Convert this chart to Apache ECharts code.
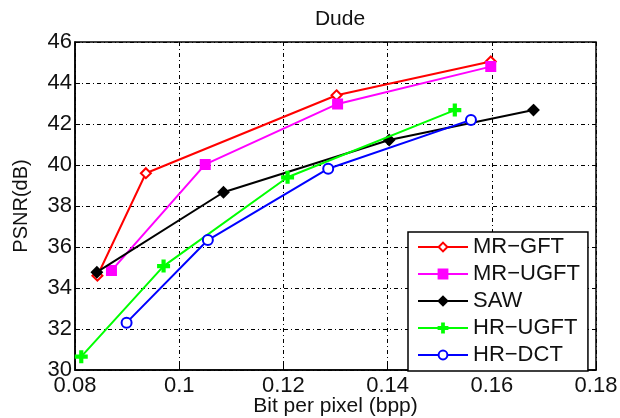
<!DOCTYPE html>
<html>
<head>
<meta charset="utf-8">
<script src="https://cdn.jsdelivr.net/npm/echarts@6/dist/echarts.min.js"></script>
<style>html,body{margin:0;padding:0;background:#fff}#c{width:620px;height:418px}</style>
</head>
<body>
<div id="c"></div>
<script>
const titleText = 'Dude';
const xName = 'Bit per pixel (bpp)';
const yName = 'PSNR(dB)';
const seriesNames = ['MR\u2212GFT', 'MR\u2212UGFT', 'SAW', 'HR\u2212UGFT', 'HR\u2212DCT'];
const mrGft  = [[0.0843, 34.6], [0.0936, 39.6], [0.1302, 43.4], [0.1598, 45.05]];
const mrUgft = [[0.0870, 34.85], [0.1050, 40.03], [0.1304, 42.98], [0.1598, 44.8]];
const saw    = [[0.0842, 34.77], [0.1085, 38.67], [0.1403, 41.22], [0.1680, 42.68]];
const hrUgft = [[0.0812, 30.65], [0.0970, 35.07], [0.1208, 39.4], [0.1529, 42.68]];
const hrDct  = [[0.0899, 32.31], [0.1055, 36.34], [0.1286, 39.82], [0.1560, 42.2]];
const xTicks = [0.08, 0.18, 0.02];
const yTicks = [30, 46, 2];

const font = 'Liberation Sans';
const plusPath = 'path://M4,0H6V4H10V6H6V10H4V6H0V4H4Z';
const styles = [
  {color: '#ff0000', symbol: 'emptyDiamond', size: 10},
  {color: '#ff00ff', symbol: 'rect', size: 9},
  {color: '#000000', symbol: 'diamond', size: 10},
  {color: '#00ff00', symbol: plusPath, size: 11},
  {color: '#0000ff', symbol: 'emptyCircle', size: 10}
];
const datas = [mrGft, mrUgft, saw, hrUgft, hrDct];
const gridLine = {show: true, lineStyle: {color: '#000', width: 1, type: [4, 3, 1, 3]}};

const chart = echarts.init(document.getElementById('c'));
chart.setOption({
  animation: false,
  backgroundColor: '#fff',
  title: {text: titleText, left: 335, top: 4, textAlign: 'center',
    textStyle: {fontFamily: font, fontSize: 21, fontWeight: 'normal', color: '#111'}},
  grid: {left: 75, top: 42, right: 24, bottom: 48, show: true, borderColor: '#000', borderWidth: 1.5,
    containLabel: false, outerBoundsMode: 'none'},
  xAxis: {
    type: 'value', min: xTicks[0], max: xTicks[1], interval: xTicks[2],
    name: xName, nameLocation: 'middle', nameGap: 26, nameMoveOverlap: false,
    nameTextStyle: {fontFamily: font, fontSize: 21, color: '#111'},
    axisLine: {show: true, lineStyle: {color: '#000', width: 1.5}},
    axisTick: {show: true, inside: true, length: 5, lineStyle: {color: '#000'}},
    axisLabel: {fontFamily: font, fontSize: 22, color: '#111', margin: 5,
      formatter: v => String(+v.toFixed(2))},
    splitLine: gridLine
  },
  yAxis: {
    type: 'value', min: yTicks[0], max: yTicks[1], interval: yTicks[2],
    name: yName, nameLocation: 'middle', nameGap: 44, nameMoveOverlap: false,
    nameTextStyle: {fontFamily: font, fontSize: 20, color: '#111'},
    axisLine: {show: true, lineStyle: {color: '#000', width: 1.5}},
    axisTick: {show: true, inside: true, length: 5, lineStyle: {color: '#000'}},
    axisLabel: {fontFamily: font, fontSize: 22, color: '#111', margin: 3},
    splitLine: gridLine
  },
  legend: {
    orient: 'vertical', left: 408, top: 232,
    backgroundColor: '#fff', borderColor: '#000', borderWidth: 1.5,
    padding: [4, 8, 5, 9], itemWidth: 50, itemHeight: 11, itemGap: 5,
    textStyle: {fontFamily: font, fontSize: 22, color: '#111', lineHeight: 20},
    data: seriesNames
  },
  series: seriesNames.map((n, i) => ({
    name: n, type: 'line', data: datas[i],
    symbol: styles[i].symbol, symbolSize: styles[i].size, showAllSymbol: true,
    lineStyle: {color: styles[i].color, width: 2},
    itemStyle: {color: styles[i].color, borderColor: styles[i].color, borderWidth: 2},
    z: 3 + i
  }))
});
</script>
</body>
</html>
